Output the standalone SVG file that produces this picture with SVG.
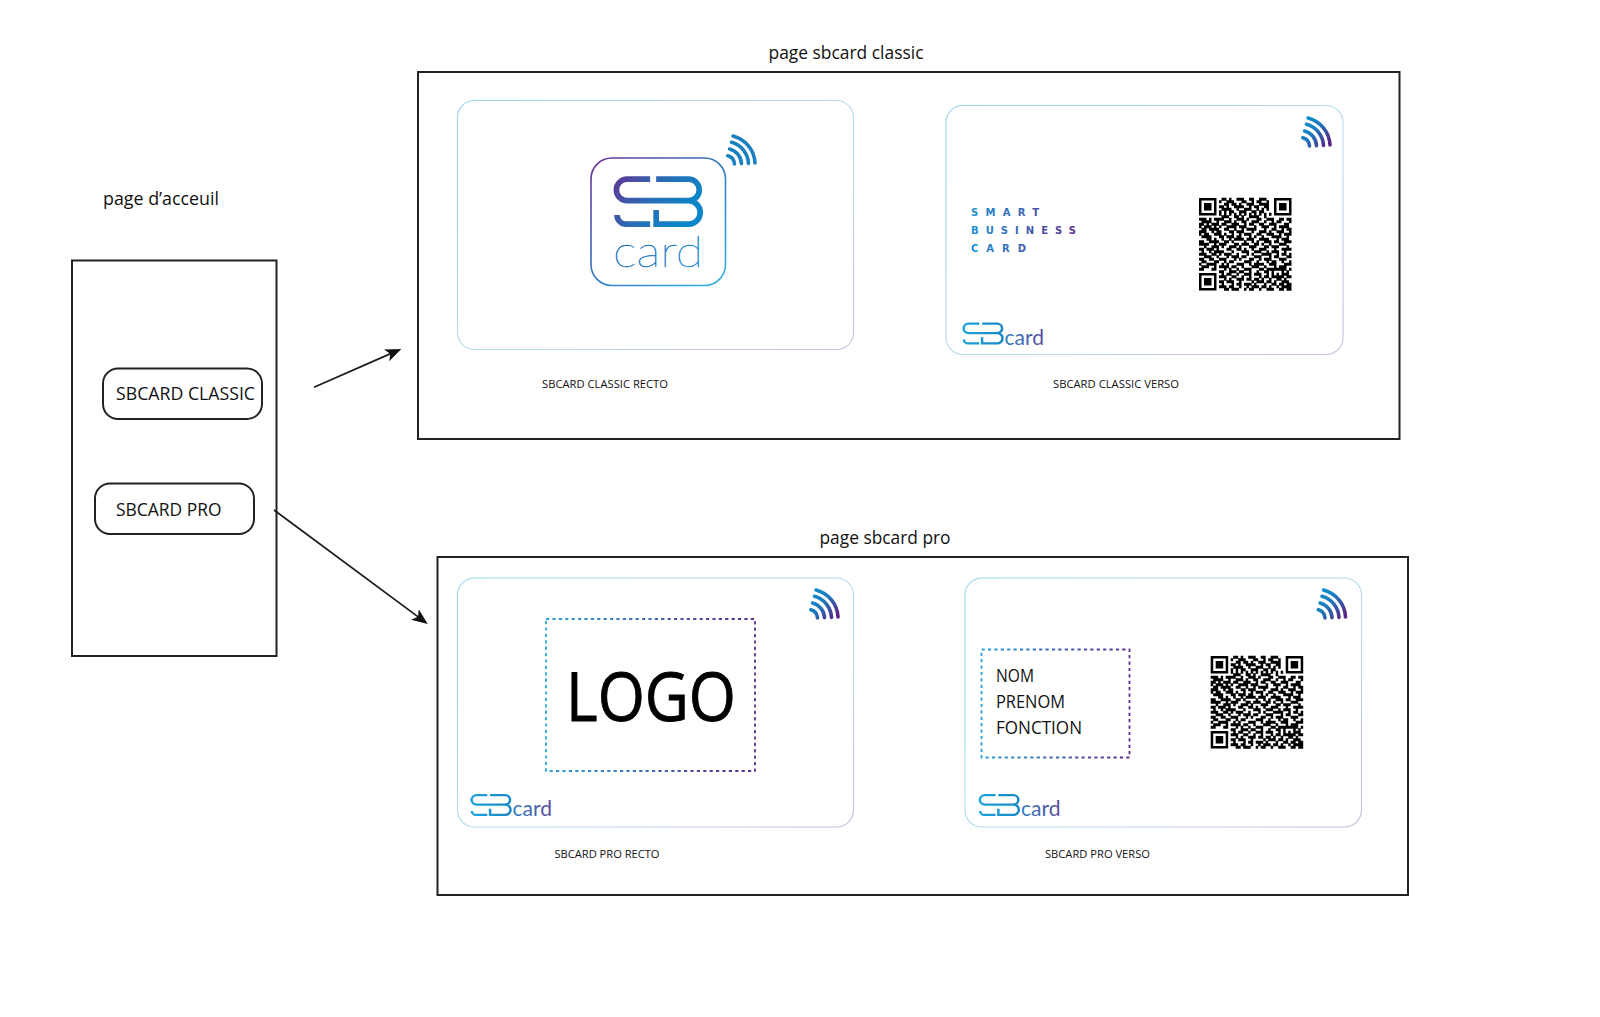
<svg xmlns="http://www.w3.org/2000/svg" width="1600" height="1017" viewBox="0 0 1600 1017">
<style>
text{font-family:"Open Sans","Liberation Sans",sans-serif;fill:#111}
.frame{fill:none;stroke:#222;stroke-width:2}
.btn{fill:#fff;stroke:#222;stroke-width:2}
.card{fill:#fff;stroke:url(#cardStroke);stroke-width:1.1}
.dash{fill:none;stroke:url(#dashStroke);stroke-width:1.8;stroke-dasharray:3.2 3.2}
.title{font-size:19px}
.btxt{font-size:19px}
.cap{font-size:11px}
.field{font-size:18.5px}
.word{font-family:Lato,"Open Sans",sans-serif;font-weight:400;fill:url(#wordFill)}
.smart{font-family:"DejaVu Sans","Open Sans",sans-serif;font-weight:700;font-size:10px;fill:url(#smartFill)}
.conn{fill:none;stroke:#1a1a1a;stroke-width:1.7;marker-end:url(#head)}
</style>
<defs>
<linearGradient id="cardStroke" x1="0" y1="0" x2="1" y2="1"><stop offset="0" stop-color="#9ad6ec"/><stop offset="0.6" stop-color="#b7dbec"/><stop offset="1" stop-color="#cdbadf"/></linearGradient>
<linearGradient id="dashStroke" x1="0" y1="0" x2="1" y2="0"><stop offset="0" stop-color="#29a4d8"/><stop offset="1" stop-color="#5c2e8e"/></linearGradient>
<linearGradient id="wordFill" x1="0" y1="0" x2="1" y2="0"><stop offset="0" stop-color="#2f7fc0"/><stop offset="1" stop-color="#5b4a9e"/></linearGradient>
<linearGradient id="smartFill" gradientUnits="userSpaceOnUse" x1="972" y1="0" x2="1076" y2="0"><stop offset="0" stop-color="#1d8fd0"/><stop offset="1" stop-color="#5e2f90"/></linearGradient>
<linearGradient id="wifiFill" gradientUnits="userSpaceOnUse" x1="6" y1="-25" x2="30" y2="-5"><stop offset="0" stop-color="#0f8ccb"/><stop offset="0.4" stop-color="#1f78bd"/><stop offset="1" stop-color="#5c2485"/></linearGradient>
<linearGradient id="bigMark" x1="0" y1="0" x2="1" y2="0.4"><stop offset="0" stop-color="#5b3a96"/><stop offset="0.5" stop-color="#2a6db5"/><stop offset="1" stop-color="#0c86c8"/></linearGradient>
<linearGradient id="smallMark" x1="0" y1="0" x2="1" y2="0"><stop offset="0" stop-color="#1ba3dc"/><stop offset="1" stop-color="#1787c8"/></linearGradient>
<linearGradient id="squareStroke" x1="0" y1="0" x2="1" y2="1"><stop offset="0" stop-color="#6a2f93"/><stop offset="0.5" stop-color="#3279bf"/><stop offset="1" stop-color="#35b3e6"/></linearGradient>
<linearGradient id="bigWord" x1="0" y1="0" x2="1" y2="0"><stop offset="0" stop-color="#1d6fb8"/><stop offset="1" stop-color="#1b8ed0"/></linearGradient>
<marker id="head" markerUnits="userSpaceOnUse" markerWidth="18" markerHeight="14" refX="10" refY="6.5" orient="auto"><path d="M16 6.5L0 0L4 6.5L0 13Z" fill="#111"/></marker>
<g id="wifi" fill="none" stroke-width="3.6" stroke-linecap="round"><path d="M2.3 -8.7A9 9 0 0 1 9 -.5M4.1 -15.5A16 16 0 0 1 16 -.8M6 -22.2A23 23 0 0 1 23 -1.1M7.6 -28.5A29.5 29.5 0 0 1 29.5 -1.5"/></g>
<g id="mark" fill="none"><path d="M107 7.5H38A32.25 32.25 0 0 0 38 72H222M125 7.5H222A32.25 32.25 0 0 1 222 72A35.25 35.25 0 0 1 222 142.5H125V100M7.5 115A27.5 27.5 0 0 0 35 142.5H107"/></g>
<g id="qr">
<path fill="none" stroke="#000" d="M.5 .5h6v6h-6zM30.5 .5h6v6h-6zM.5 30.5h6v6h-6z"/>
<path fill="#000" d="M2 2h3v3h-3zM32 2h3v3h-3zM2 32h3v3h-3z"/>
<path fill="none" stroke="#000" stroke-width="1.2" d="M9 .5h2M12 .5h1M15 .5h3M20 .5h2M24 .5h3
M8 1.5h1M11 1.5h3M17 1.5h2M21 1.5h1M23 1.5h2M27 1.5h1
M10 2.5h2M13 2.5h2M16 2.5h1M19 2.5h3M24 2.5h4
M8 3.5h2M11 3.5h1M14 3.5h4M20 3.5h1M22 3.5h2M26 3.5h2
M9 4.5h4M15 4.5h1M18 4.5h3M23 4.5h1M25 4.5h1M27 4.5h1
M8 5.5h1M10 5.5h1M12 5.5h2M16 5.5h3M21 5.5h2M24 5.5h2
M8 6.5h1M10 6.5h1M12 6.5h1M14 6.5h1M16 6.5h1M18 6.5h1M20 6.5h1M22 6.5h1M24 6.5h1M26 6.5h1M28 6.5h1
M9 7.5h3M14 7.5h2M17 7.5h1M20 7.5h4M26 7.5h1
M0 8.5h3M4 8.5h1M6 8.5h4M12 8.5h1M15 8.5h3M19 8.5h1M23 8.5h2M27 8.5h3M32 8.5h2M35 8.5h2
M1 9.5h4M7 9.5h1M10 9.5h3M14 9.5h1M17 9.5h2M21 9.5h3M26 9.5h1M29 9.5h1M31 9.5h2M36 9.5h1
M0 10.5h2M3 10.5h1M5 10.5h3M9 10.5h2M13 10.5h3M18 10.5h1M20 10.5h2M24 10.5h2M28 10.5h3M34 10.5h2
M0 11.5h1M2 11.5h3M6 11.5h1M8 11.5h1M11 11.5h4M16 11.5h3M22 11.5h1M25 11.5h3M30 11.5h1M32 11.5h4
M1 12.5h2M4 12.5h4M10 12.5h2M14 12.5h1M17 12.5h1M19 12.5h4M26 12.5h1M29 12.5h2M33 12.5h1M35 12.5h2
M0 13.5h3M5 13.5h1M7 13.5h2M12 13.5h2M15 13.5h3M21 13.5h1M24 13.5h3M28 13.5h1M31 13.5h3M36 13.5h1
M0 14.5h1M2 14.5h2M6 14.5h3M10 14.5h1M13 14.5h1M16 14.5h1M18 14.5h3M23 14.5h2M27 14.5h3M32 14.5h1M34 14.5h3
M1 15.5h4M8 15.5h2M11 15.5h3M15 15.5h2M20 15.5h1M22 15.5h1M25 15.5h1M29 15.5h4M35 15.5h1
M3 16.5h2M6 16.5h1M9 16.5h1M12 16.5h1M14 16.5h4M19 16.5h3M24 16.5h4M31 16.5h1M33 16.5h3
M0 17.5h2M4 17.5h4M10 17.5h2M13 17.5h1M18 17.5h1M21 17.5h1M23 17.5h1M26 17.5h3M30 17.5h2M34 17.5h3
M0 18.5h4M6 18.5h1M8 18.5h3M14 18.5h2M17 18.5h3M22 18.5h2M25 18.5h1M28 18.5h1M32 18.5h3
M2 19.5h1M5 19.5h3M9 19.5h1M12 19.5h3M16 19.5h1M20 19.5h3M26 19.5h2M29 19.5h3M35 19.5h1
M0 20.5h2M3 20.5h3M7 20.5h1M11 20.5h2M15 20.5h2M18 20.5h1M21 20.5h1M24 20.5h3M30 20.5h1M33 20.5h4
M1 21.5h1M4 21.5h1M6 21.5h4M13 21.5h1M17 21.5h3M22 21.5h3M27 21.5h1M29 21.5h3M34 21.5h1
M0 22.5h3M5 22.5h2M8 22.5h1M10 22.5h3M15 22.5h1M19 22.5h1M21 22.5h1M25 22.5h4M31 22.5h1M33 22.5h2M36 22.5h1
M2 23.5h3M7 23.5h1M11 23.5h1M13 23.5h3M17 23.5h2M22 23.5h3M28 23.5h1M30 23.5h2M35 23.5h2
M0 24.5h2M4 24.5h2M8 24.5h3M14 24.5h1M16 24.5h1M20 24.5h2M24 24.5h1M26 24.5h3M32 24.5h3
M1 25.5h2M6 25.5h2M10 25.5h1M12 25.5h2M18 25.5h3M23 25.5h1M27 25.5h1M29 25.5h2M33 25.5h1M36 25.5h1
M0 26.5h1M3 26.5h4M9 26.5h1M11 26.5h1M15 26.5h3M20 26.5h1M22 26.5h4M28 26.5h3M34 26.5h3
M1 27.5h3M6 27.5h1M8 27.5h4M13 27.5h2M17 27.5h1M21 27.5h3M26 27.5h1M30 27.5h1M32 27.5h3
M0 28.5h2M5 28.5h2M10 28.5h1M12 28.5h1M15 28.5h1M18 28.5h3M24 28.5h2M27 28.5h8M36 28.5h1
M8 29.5h2M12 29.5h3M16 29.5h2M20 29.5h1M23 29.5h1M26 29.5h2M29 29.5h1M33 29.5h1M35 29.5h1
M9 30.5h1M11 30.5h2M15 30.5h1M18 30.5h3M22 30.5h3M27 30.5h1M29 30.5h1M31 30.5h1M33 30.5h3
M8 31.5h3M13 31.5h2M17 31.5h1M20 31.5h1M24 31.5h1M26 31.5h2M29 31.5h5M35 31.5h2
M10 32.5h1M12 32.5h1M15 32.5h3M19 32.5h2M22 32.5h2M25 32.5h1M28 32.5h1M31 32.5h2M34 32.5h1
M8 33.5h2M11 33.5h3M16 33.5h1M21 33.5h1M23 33.5h3M27 33.5h2M30 33.5h1M33 33.5h3
M9 34.5h1M13 34.5h1M15 34.5h2M18 34.5h3M22 34.5h1M26 34.5h1M29 34.5h2M32 34.5h2M35 34.5h2
M8 35.5h3M12 35.5h2M16 35.5h1M19 35.5h1M21 35.5h3M25 35.5h2M28 35.5h1M31 35.5h1M33 35.5h4
M10 36.5h2M13 36.5h3M18 36.5h1M20 36.5h2M24 36.5h1M27 36.5h3M32 36.5h2M35 36.5h2"/>
</g>
</defs>
<rect width="1600" height="1017" fill="#fff"/>

<g id="home">
<text class="title" x="103" y="205" textLength="116" lengthAdjust="spacingAndGlyphs">page d’acceuil</text>
<rect class="frame" x="72" y="260.5" width="204.5" height="395.5"/>
</g>
<g id="btn-classic">
<rect class="btn" x="103" y="368.5" width="159" height="50.5" rx="15"/>
<text class="btxt" x="116" y="400" textLength="139" lengthAdjust="spacingAndGlyphs">SBCARD CLASSIC</text>
</g>
<g id="btn-pro">
<rect class="btn" x="95" y="483.5" width="159" height="50.5" rx="15"/>
<text class="btxt" x="116" y="516" textLength="105.5" lengthAdjust="spacingAndGlyphs">SBCARD PRO</text>
</g>

<g id="page-classic">
<text class="title" x="768.5" y="58.5" textLength="155" lengthAdjust="spacingAndGlyphs">page sbcard classic</text>
<rect class="frame" x="418" y="72" width="981.5" height="367"/>
</g>
<g id="classic-recto">
<rect class="card" x="457.5" y="100.5" width="396" height="249" rx="17"/>
<rect x="591" y="158" width="134.5" height="127.5" rx="21" fill="none" stroke="url(#squareStroke)" stroke-width="1.6"/>
<use href="#mark" transform="translate(614.5 176.7) scale(.3333)" stroke="url(#bigMark)" stroke-width="17"/>
<text class="word" x="613" y="266.5" font-size="43" textLength="90" lengthAdjust="spacingAndGlyphs" style="fill:url(#bigWord);font-weight:100;stroke:url(#bigWord);stroke-width:.45">card</text>
<use href="#wifi" transform="translate(725.5 164.5)" stroke="#1a80bf"/>
<text class="cap" x="542" y="387.5" textLength="126" lengthAdjust="spacingAndGlyphs">SBCARD CLASSIC RECTO</text>
</g>
<g id="classic-verso">
<rect class="card" x="946" y="105.5" width="397" height="249" rx="17"/>
<use href="#wifi" transform="translate(1300.5 146.5)" stroke="url(#wifiFill)"/>
<text class="smart" x="971" y="216" textLength="68" lengthAdjust="spacing">SMART</text>
<text class="smart" x="971" y="234" textLength="105" lengthAdjust="spacing">BUSINESS</text>
<text class="smart" x="971" y="251.5" textLength="55" lengthAdjust="spacing">CARD</text>
<use href="#qr" transform="translate(1199 198) scale(2.5)"/>
<use href="#mark" transform="translate(962.7 322.5) scale(.155 .147)" stroke="url(#smallMark)" stroke-width="16"/>
<text class="word" x="1004.5" y="345" font-size="22" textLength="39.5" lengthAdjust="spacingAndGlyphs">card</text>
<text class="cap" x="1053" y="387.5" textLength="126" lengthAdjust="spacingAndGlyphs">SBCARD CLASSIC VERSO</text>
</g>

<g id="page-pro">
<text class="title" x="819.5" y="543.5" textLength="131" lengthAdjust="spacingAndGlyphs">page sbcard pro</text>
<rect class="frame" x="437.5" y="557" width="970.5" height="338"/>
</g>
<g id="pro-recto">
<rect class="card" x="457.5" y="578" width="396" height="249" rx="17"/>
<use href="#wifi" transform="translate(808.5 618.5)" stroke="url(#wifiFill)"/>
<rect class="dash" x="546" y="619" width="209" height="152"/>
<text x="566" y="721" font-size="67" textLength="170" lengthAdjust="spacingAndGlyphs" style="fill:#000;stroke:#000;stroke-width:.9">LOGO</text>
<use href="#mark" transform="translate(470.7 794) scale(.155 .147)" stroke="url(#smallMark)" stroke-width="16"/>
<text class="word" x="512.5" y="816" font-size="22" textLength="39.5" lengthAdjust="spacingAndGlyphs">card</text>
<text class="cap" x="554.5" y="858" textLength="105" lengthAdjust="spacingAndGlyphs">SBCARD PRO RECTO</text>
</g>
<g id="pro-verso">
<rect class="card" x="965" y="578" width="396.5" height="249" rx="17"/>
<use href="#wifi" transform="translate(1316 618.5)" stroke="url(#wifiFill)"/>
<rect class="dash" x="981.5" y="649.5" width="148" height="108"/>
<text class="field" x="996" y="682" textLength="38" lengthAdjust="spacingAndGlyphs">NOM</text>
<text class="field" x="996" y="708" textLength="69" lengthAdjust="spacingAndGlyphs">PRENOM</text>
<text class="field" x="996" y="734" textLength="86" lengthAdjust="spacingAndGlyphs">FONCTION</text>
<use href="#qr" transform="translate(1210.7 656) scale(2.5)"/>
<use href="#mark" transform="translate(979 794) scale(.155 .147)" stroke="url(#smallMark)" stroke-width="16"/>
<text class="word" x="1021" y="816" font-size="22" textLength="39.5" lengthAdjust="spacingAndGlyphs">card</text>
<text class="cap" x="1045" y="858" textLength="105" lengthAdjust="spacingAndGlyphs">SBCARD PRO VERSO</text>
</g>

<g id="connectors">
<path class="conn" d="M314 387.3L395.8 351.4"/>
<path class="conn" d="M274 510L422.9 620.4"/>
</g>
</svg>
